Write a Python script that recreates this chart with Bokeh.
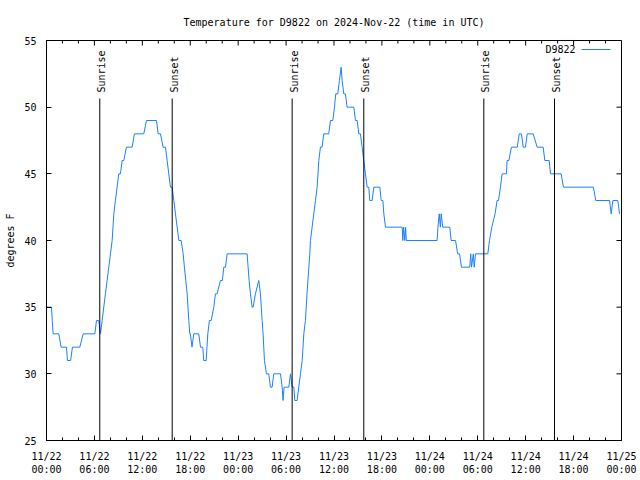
from bokeh.plotting import figure
from bokeh.models import FixedTicker, LinearAxis, Label, Arrow, Range1d, ColumnDataSource
from bokeh.embed import file_html
from bokeh.resources import INLINE
from bokeh.core.properties import value
import math

# ---- data: hours since 2024-11-22 00:00 UTC, temperature (deg F) ----
hours = [0.00, 0.62, 0.72, 0.83, 1.54, 1.83, 2.50, 2.62, 3.02, 3.25, 4.17, 4.59, 6.05, 6.26, 6.55, 6.76,
         6.97, 7.17, 7.38, 7.59, 7.80, 8.01, 8.22, 8.43, 8.63, 8.84, 9.05, 9.26, 9.47, 9.68, 10.01, 10.72,
         11.01, 12.18, 12.52, 13.77, 13.98, 14.27, 14.60, 14.90, 15.11, 15.31, 15.52, 15.73, 15.94, 16.15,
         16.36, 16.57, 16.86, 17.11, 17.27, 17.44, 17.61, 17.82, 17.94, 18.02, 18.22, 18.44, 19.07, 19.28,
         19.57, 19.69, 19.99, 20.20, 20.40, 20.62, 20.95, 21.15, 21.36, 21.78, 22.02, 22.20, 22.41, 22.62,
         25.12, 25.37, 25.54, 25.75, 25.87, 26.16, 26.58, 26.79, 27.00, 27.12, 27.29, 27.54, 27.83, 28.04,
         28.25, 28.46, 29.30, 29.51, 29.62, 29.75, 29.92, 30.34, 30.55, 30.76, 30.97, 31.09, 31.38, 31.59,
         31.80, 32.02, 32.22, 32.42, 32.62, 32.85, 32.97, 33.05, 33.26, 33.47, 33.68, 33.89, 34.10, 34.30,
         34.51, 34.72, 35.34, 35.56, 35.85, 36.06, 36.22, 36.47, 36.68, 36.89, 37.02, 37.22, 37.43, 37.64,
         37.77, 38.48, 38.69, 38.90, 39.11, 39.31, 39.52, 39.73, 39.94, 40.15, 40.36, 40.48, 40.77, 40.99,
         41.74, 41.91, 42.12, 42.24, 42.45, 44.54, 44.62, 44.72, 44.87, 44.97, 45.05, 48.91, 49.02, 49.17,
         49.32, 49.42, 49.62, 50.50, 50.67, 51.22, 51.48, 51.72, 51.96, 53.00, 53.12, 53.22, 53.45, 53.55,
         53.72, 55.26, 55.47, 55.76, 56.17, 56.42, 56.60, 56.84, 57.05, 57.59, 57.68, 57.89, 58.22, 58.95,
         59.19, 59.48, 59.69, 59.98, 60.19, 60.94, 61.44, 62.19, 62.40, 62.94, 63.11, 64.44, 64.73, 68.48,
         68.78, 70.50, 70.71, 70.92, 71.54, 71.75]
temps = [35, 35, 34, 33, 33, 32, 32, 31, 31, 32, 32, 33, 33, 34, 34, 33,
         34, 35, 36, 37, 38, 39, 40, 42, 43, 44, 45, 45, 46, 46, 47, 47,
         48, 48, 49, 49, 48, 48, 47, 47, 46, 45, 44, 44, 43, 42,
         41, 40, 40, 39, 38, 37, 36, 34, 33, 33, 32, 33, 33, 32,
         32, 31, 31, 33, 34, 34, 35, 36, 36, 37, 37, 38, 38, 39,
         39, 37, 36, 35, 35, 36, 37, 36, 34, 33, 31, 30, 30, 29,
         29, 30, 30, 29, 28, 29, 29, 29, 30, 29, 29, 28, 28, 29,
         30, 31, 33, 34, 36, 38, 39, 40, 41, 42, 43, 44, 46, 47,
         47, 48, 48, 49, 49, 50, 51, 51, 52, 53, 52, 51, 51, 50,
         50, 50, 49, 49, 48, 48, 47, 46, 45, 44, 44, 43, 43, 44,
         44, 43, 43, 42, 41, 41, 40, 41, 40, 41, 40, 40, 41, 42,
         41, 42, 41, 41, 40, 40, 39, 39, 38, 38, 39, 38, 39, 38,
         39, 39, 40, 41, 42, 43, 43, 44, 45, 45, 46, 46, 47, 47,
         48, 48, 47, 47, 48, 48, 47, 47, 46, 46, 45, 45, 44, 44,
         43, 43, 42, 43, 43, 42]

sun_hours = [6.67, 15.74, 30.76, 39.73, 54.76, 63.61]
sun_labels = ["Sunrise", "Sunset", "Sunrise", "Sunset", "Sunrise", "Sunset"]

x_ticks = [0, 6, 12, 18, 24, 30, 36, 42, 48, 54, 60, 66, 72]
x_tick_labels = ["11/22\n00:00", "11/22\n06:00", "11/22\n12:00", "11/22\n18:00",
                 "11/23\n00:00", "11/23\n06:00", "11/23\n12:00", "11/23\n18:00",
                 "11/24\n00:00", "11/24\n06:00", "11/24\n12:00", "11/24\n18:00",
                 "11/25\n00:00"]
x_minor_ticks = [t for t in range(0, 73, 2) if t % 6 != 0]
y_ticks = [25, 30, 35, 40, 45, 50, 55]

series_name = "D9822"
title_text = "Temperature for D9822 on 2024-Nov-22 (time in UTC)"
y_label = "degrees F"

X_MIN, X_MAX = 0, 72
Y_MIN, Y_MAX = 25, 55

FONT = "DejaVu Sans Mono"
LINE_COLOR = "#1a80ff"

p = figure(width=640, height=480, x_range=Range1d(X_MIN, X_MAX), y_range=Range1d(Y_MIN, Y_MAX),
           output_backend="svg", toolbar_location=None,
           min_border_left=46, min_border_right=19, min_border_top=40, min_border_bottom=40,
           x_axis_location=None, y_axis_location=None)
p.background_fill_color = "white"
p.border_fill_color = "white"
p.outline_line_color = "black"
p.outline_line_width = 1
p.xgrid.visible = False
p.ygrid.visible = False

p.title.text = title_text
p.title.align = "center"
p.title.text_font = FONT
p.title.text_font_size = "10px"
p.title.text_font_style = "normal"
p.title.text_color = "black"
p.title.standoff = 25

xt = FixedTicker(ticks=x_ticks, minor_ticks=x_minor_ticks)
yt = FixedTicker(ticks=y_ticks, minor_ticks=[])


def style_axis(ax):
    ax.axis_line_color = "black"
    ax.major_tick_line_color = "black"
    ax.minor_tick_line_color = "black"
    ax.major_tick_in = 5
    ax.major_tick_out = 0
    ax.minor_tick_in = 3
    ax.minor_tick_out = 0
    ax.major_label_text_font = FONT
    ax.major_label_text_font_size = "10px"
    ax.major_label_text_color = "black"


xb = LinearAxis(ticker=xt)
style_axis(xb)
xb.major_label_overrides = {t: lab for t, lab in zip(x_ticks, x_tick_labels)}
xb.major_label_standoff = 10
xb.major_label_text_line_height = 1.25
p.add_layout(xb, "below")

yl = LinearAxis(ticker=yt)
style_axis(yl)
yl.major_label_standoff = 10
yl.axis_label = y_label
yl.axis_label_text_font = FONT
yl.axis_label_text_font_size = "10px"
yl.axis_label_text_font_style = "normal"
yl.axis_label_text_color = "black"
yl.axis_label_standoff = 5
p.add_layout(yl, "left")

# mirrored ticks on the top and right edges (gnuplot style)
p.ray(x=x_ticks, y=[Y_MAX] * len(x_ticks), length=5, length_units="screen",
      angle=-math.pi / 2, line_color="black", line_width=1)
p.ray(x=x_minor_ticks, y=[Y_MAX] * len(x_minor_ticks), length=3, length_units="screen",
      angle=-math.pi / 2, line_color="black", line_width=1)
p.ray(x=[X_MAX] * len(y_ticks), y=y_ticks, length=5, length_units="screen",
      angle=math.pi, line_color="black", line_width=1)

# temperature series
src = ColumnDataSource(data=dict(h=hours, t=temps))
p.line("h", "t", source=src, line_color=LINE_COLOR, line_width=1)

# sunrise / sunset markers
sun_top = 50.65
sun_src = ColumnDataSource(data=dict(x=sun_hours, y0=[Y_MIN] * len(sun_hours),
                                     y1=[sun_top] * len(sun_hours), lab=sun_labels))
p.segment(x0="x", y0="y0", x1="x", y1="y1", source=sun_src, line_color="black", line_width=1)
p.text(x="x", y="y1", text="lab", source=sun_src, angle=math.pi / 2,
       text_align="left", text_baseline="middle", x_offset=2, y_offset=-6,
       text_font=value(FONT), text_font_size="10px", text_color="black")

# key (label left of sample line, as in gnuplot)
p.add_layout(Label(x=529, y=391, x_units="screen", y_units="screen", text=series_name,
                   text_align="right", text_baseline="middle", text_font=FONT,
                   text_font_size="10px", text_color="black"))
p.add_layout(Arrow(x_start=535, y_start=391, x_end=564, y_end=391,
                   start_units="screen", end_units="screen", start=None, end=None,
                   line_color=LINE_COLOR, line_width=1))

open("out.html", "w").write(file_html(p, INLINE))
